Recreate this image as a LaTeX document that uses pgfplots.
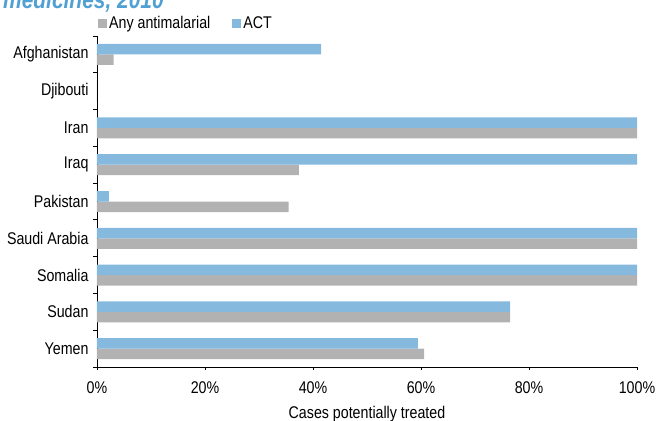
\documentclass[border=0pt]{standalone}
\usepackage{pgfplots}
\pgfplotsset{compat=1.18}
\usepackage{fontspec}
\setmainfont[FakeStretch=0.84]{Liberation Sans}
\definecolor{actblue}{RGB}{133,185,221}
\definecolor{anygray}{RGB}{178,178,178}
\definecolor{titleblue}{RGB}{80,160,212}
\begin{document}
\begin{tikzpicture}
\begin{axis}[
  scale only axis,
  width=540bp, height=331bp,
  xbar, bar width=10.5bp,
  xmin=0, xmax=1,
  ymin=-0.5, ymax=8.5,
  y dir=reverse,
  axis x line*=bottom, axis y line*=left,
  xtick={0,0.2,0.4,0.6,0.8,1},
  xticklabels={0\%,20\%,40\%,60\%,80\%,100\%},
  ytick={0,...,8},
  yticklabels={Afghanistan,Djibouti,Iran,Iraq,Pakistan,Saudi Arabia,Somalia,Sudan,Yemen},
  minor ytick={-0.5,0.5,...,8.5},
  major y tick style={draw=none},
  minor tick length=4bp,
  major x tick style={black},
  major tick length=3bp,
  tick align=outside,
  tick style={black, line width=0.8pt},
  axis line style={black, line width=0.8pt},
  tick label style={font=\fontsize{17}{17}\selectfont},
  xticklabel style={anchor=base, yshift=-23bp},
  yticklabel style={xshift=-2bp},
  /pgf/number format/assume math mode=true,
  xlabel={Cases potentially treated},
  xlabel style={font=\fontsize{17}{17}\selectfont, at={(axis description cs:0.5,0)}, anchor=base, yshift=-51bp},
  legend columns=2,
  legend style={at={(0,1)}, anchor=south west, draw=none, fill=none,
    font=\fontsize{17}{17}\selectfont, column sep=0bp, yshift=2bp, xshift=-2bp,
    nodes={inner sep=2bp},
    /tikz/column 2/.style={column sep=20bp}},
  legend image code/.code={\fill[#1] (0bp,-5bp) rectangle (9bp,4bp);},
]
\addplot[fill=anygray, draw=none, bar shift=-5.25bp] coordinates {
 (0.031,0) (0,1) (1,2) (0.374,3) (0.355,4) (1,5) (1,6) (0.765,7) (0.606,8)};
\addlegendentry{Any antimalarial}
\addplot[fill=actblue, draw=none, bar shift=5.25bp] coordinates {
 (0.415,0) (0,1) (1,2) (1,3) (0.022,4) (1,5) (1,6) (0.765,7) (0.594,8)};
\addlegendentry{ACT}
\end{axis}
\node[anchor=base west, text=titleblue, font=\fontsize{25}{25}\selectfont\bfseries\itshape, inner sep=0pt] at (-94bp,358bp) {medicines, 2010};
\pgfresetboundingbox
\path[use as bounding box] (-97bp,-54bp) rectangle (560bp,367bp);
\end{tikzpicture}
\end{document}
